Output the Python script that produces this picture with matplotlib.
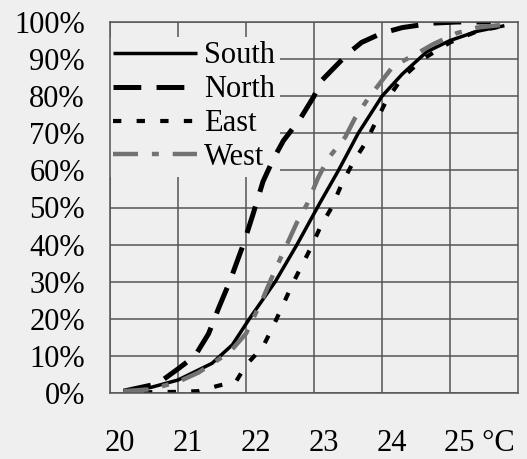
import matplotlib
matplotlib.use("Agg")
import matplotlib.pyplot as plt
import matplotlib.transforms as mtransforms

plt.rcParams['font.family'] = ['Liberation Serif', 'DejaVu Serif']
plt.rcParams['lines.scale_dashes'] = False

# Cumulative share of readings below each temperature, per facade
south_t = [20.2, 20.6, 21.0, 21.5, 21.8, 22.05, 22.43, 22.75, 23.08, 23.36, 23.65, 24.0, 24.3, 24.66, 25.0, 25.4, 25.8]
south_p = [0.5, 1.5, 3.5, 8, 13, 20, 30, 40, 51, 60, 70, 80, 86, 92, 95, 97.5, 99]

north_t = [20.2, 20.7, 21.0, 21.25, 21.45, 21.6, 21.76, 21.96, 22.1, 22.25, 22.4, 22.55, 22.8, 23.0, 23.1, 23.5, 23.7, 24.0, 24.3, 24.75, 25.1, 25.6]
north_p = [0.5, 2.5, 6.5, 10, 16, 23, 30, 40, 48, 57, 63, 68, 74, 80, 84, 91.5, 94.5, 97, 98.5, 99.7, 100, 100]

east_t = [20.5, 21.0, 21.3, 21.6, 21.85, 22.0, 22.25, 22.4, 22.55, 22.7, 22.95, 23.1, 23.26, 23.4, 23.57, 23.76, 23.92, 24.07, 24.3, 24.6, 25.0, 25.4, 25.8]
east_p = [0.2, 0.3, 0.5, 2, 3, 7.5, 12.5, 18, 24, 30, 39, 45, 50, 56, 62, 67.5, 73.5, 79, 85, 90, 94.5, 97.5, 99]

west_t = [20.2, 20.6, 21.0, 21.3, 21.76, 22.0, 22.26, 22.4, 22.55, 22.75, 22.9, 23.06, 23.2, 23.46, 23.6, 23.8, 24.16, 24.56, 24.75, 25.1, 25.4, 25.8]
west_p = [0.5, 1, 3, 5.5, 11, 16, 26, 32, 38, 46, 51, 58, 63, 69, 74, 79.5, 88, 92, 94, 97, 98.5, 99.3]

x_ticks = [20, 21, 22, 23, 24, 25]
x_labels = ['20', '21', '22', '23', '24', '25 °C']
y_ticks = list(range(0, 101, 10))
y_labels = [f'{v}%' for v in y_ticks]

bg = '#efefef'
fs = 22
fig = plt.figure(figsize=(5.27, 4.59), dpi=100, facecolor=bg)
ax = fig.add_axes([110 / 527, 66 / 459, 408 / 527, 371 / 459], facecolor=bg)

ax.plot(south_t, south_p, color='black', lw=2.5, solid_capstyle='butt', label='South')
ax.plot(north_t, north_p, color='black', lw=3.6, linestyle=(0, (20, 11)), label='North')
ax.plot(east_t, east_p, color='black', lw=3.0, linestyle=(0, (6, 11)), label='East')
ax.plot(west_t, west_p, color='#727272', lw=3.2, linestyle=(0, (18, 10, 5, 10)), label='West')

ax.set_xlim(20, 26)
ax.set_ylim(0, 100)
ax.set_xticks(x_ticks)
ax.set_xticklabels(x_labels)
ax.set_yticks(y_ticks)
ax.set_yticklabels(y_labels)
ax.grid(True, color='#555555', lw=1.1)
ax.set_axisbelow(True)
for s in ax.spines.values():
    s.set_color('#555555')
    s.set_linewidth(1.1)

ax.tick_params(axis='both', length=0, labelsize=fs)
ax.tick_params(axis='x', pad=26)
ax.tick_params(axis='y', pad=18)

# shift x labels a little to the right of their grid lines
shift = mtransforms.ScaledTranslation(10 / 100, 0, fig.dpi_scale_trans)
for i, lab in enumerate(ax.get_xticklabels()):
    if i == len(x_ticks) - 1:
        lab.set_ha('left')
        lab.set_transform(lab.get_transform() + mtransforms.ScaledTranslation(-6 / 100, 0, fig.dpi_scale_trans))
    else:
        lab.set_transform(lab.get_transform() + shift)

leg = ax.legend(loc='upper left', bbox_to_anchor=(-0.005, 0.96), fontsize=fs,
                handlelength=2.75, handletextpad=0.25, labelspacing=0.16,
                borderpad=0.15, borderaxespad=0, frameon=True, fancybox=False)
leg.get_frame().set_facecolor(bg)
leg.get_frame().set_edgecolor('none')
leg.get_frame().set_alpha(1)
# legend box sits above the grid but under the curves
leg.set_zorder(1.5)

fig.savefig('out.png', dpi=100, facecolor=bg)
